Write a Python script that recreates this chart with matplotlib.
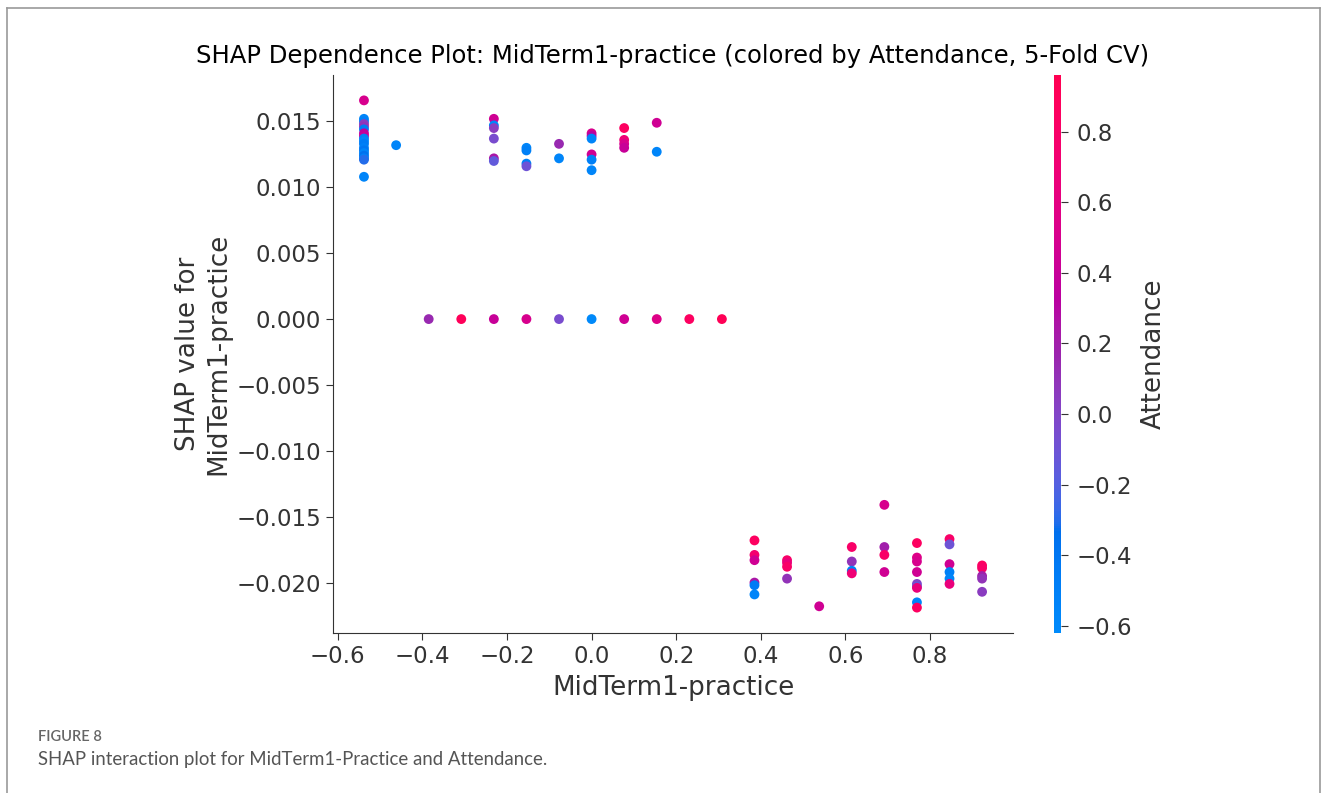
"""SHAP dependence plot: MidTerm1-practice coloured by Attendance"""

import numpy as np
import matplotlib
matplotlib.use("Agg")
import matplotlib.pyplot as plt
from matplotlib.colors import LinearSegmentedColormap, Normalize
from matplotlib.lines import Line2D

# feature value (x), SHAP value (y), attendance (colour), one row per dot
midterm1 = (
    [-0.538] * 18 + [-0.462] + [-0.385] + [-0.308]
    + [-0.231] * 7 + [-0.154] * 5 + [-0.077] * 3 + [0.0] * 7
    + [0.077] * 5 + [0.154] * 3 + [0.231] + [0.308]
    + [0.385] * 6 + [0.462] * 4 + [0.538] + [0.615] * 4 + [0.692] * 4
    + [0.769] * 9 + [0.846] * 6 + [0.923] * 5
)
shap_vals = [
    # -0.538
    0.0166, 0.0152, 0.0150, 0.0148, 0.0146, 0.0144, 0.0141, 0.0139, 0.0137,
    0.0135, 0.0133, 0.0130, 0.0128, 0.0126, 0.0124, 0.0122, 0.0121, 0.0108,
    0.0132,                                         # -0.462
    0.0,                                            # -0.385
    0.0,                                            # -0.308
    0.0152, 0.0147, 0.0145, 0.0137, 0.0122, 0.0120, 0.0,   # -0.231
    0.0130, 0.0128, 0.0118, 0.0116, 0.0,            # -0.154
    0.0133, 0.0122, 0.0,                            # -0.077
    0.0141, 0.0139, 0.0137, 0.0125, 0.0121, 0.0113, 0.0,   # 0.0
    0.0145, 0.0136, 0.0133, 0.0130, 0.0,            # 0.077
    0.0149, 0.0127, 0.0,                            # 0.154
    0.0,                                            # 0.231
    0.0,                                            # 0.308
    -0.0168, -0.0179, -0.0183, -0.0200, -0.0202, -0.0209,  # 0.385
    -0.0183, -0.0185, -0.0188, -0.0197,             # 0.462
    -0.0218,                                        # 0.538
    -0.0173, -0.0184, -0.0191, -0.0193,             # 0.615
    -0.0141, -0.0173, -0.0179, -0.0192,             # 0.692
    -0.0170, -0.0181, -0.0184, -0.0192, -0.0201, -0.0203, -0.0204,
    -0.0215, -0.0219,                               # 0.769
    -0.0167, -0.0171, -0.0186, -0.0192, -0.0197, -0.0201,  # 0.846
    -0.0187, -0.0189, -0.0195, -0.0197, -0.0207,    # 0.923
]
attendance = [
    0.50, -0.55, -0.50, 0.05, 0.10, -0.45, 0.35, 0.40, -0.50,
    -0.55, -0.45, -0.50, -0.40, -0.55, -0.35, -0.50, -0.30, -0.55,
    -0.55,
    0.15,
    0.90,
    0.45, -0.55, 0.05, -0.05, 0.25, -0.15, 0.40,
    -0.55, -0.50, -0.50, -0.10, 0.50,
    0.15, -0.55, -0.05,
    0.50, 0.30, -0.55, 0.45, -0.50, -0.55, -0.60,
    0.85, 0.70, 0.50, 0.40, 0.45,
    0.45, -0.55, 0.55,
    0.85,
    0.92,
    0.85, 0.75, 0.45, 0.25, -0.45, -0.55,
    0.80, 0.65, 0.80, 0.10,
    0.45,
    0.80, 0.10, -0.50, 0.70,
    0.50, 0.20, 0.80, 0.45,
    0.85, 0.55, 0.50, 0.45, 0.00, -0.15, 0.65, -0.55, 0.85,
    0.80, -0.10, 0.45, -0.50, -0.55, 0.65,
    0.85, 0.80, 0.20, 0.10, 0.05,
]
att_min, att_max = -0.62, 0.96


def lch2rgb(l, c, h):
    # LCh -> Lab -> XYZ (D65) -> sRGB
    a, b = c * np.cos(h), c * np.sin(h)
    fy = (l + 16) / 116
    fx, fz = fy + a / 500, fy - b / 200
    finv = lambda t: np.where(t ** 3 > 0.008856, t ** 3, (t - 16 / 116) / 7.787)
    xyz = np.array([0.95047 * finv(fx), finv(fy), 1.08883 * finv(fz)])
    m = np.array([[3.2406, -1.5372, -0.4986],
                  [-0.9689, 1.8758, 0.0415],
                  [0.0557, -0.2040, 1.0570]])
    rgb = m @ xyz
    rgb = np.where(rgb > 0.0031308, 1.055 * np.abs(rgb) ** (1 / 2.4) - 0.055, 12.92 * rgb)
    return np.clip(rgb, 0, 1)


# shap's red_blue colour map
nsteps = 100
l_vals = list(np.linspace(54., 40., nsteps // 2)) + list(np.linspace(40., 54., nsteps // 2))
c_vals = np.linspace(70., 90., nsteps)
h_vals = np.linspace(4.6588, 0.35470565 + 2 * np.pi, nsteps)
red_blue = LinearSegmentedColormap.from_list(
    "red_blue", [lch2rgb(l, c, h) for l, c, h in zip(l_vals, c_vals, h_vals)])

fig = plt.figure(figsize=(13.28, 7.93), dpi=100)
ax = fig.add_axes([0.2508, 0.2018, 0.512, 0.7036])
cax = fig.add_axes([0.7937, 0.2018, 0.0053, 0.7036])

norm = Normalize(att_min, att_max)
sc = ax.scatter(midterm1, shap_vals, c=attendance, cmap=red_blue, norm=norm,
                s=50, linewidth=0, alpha=1)

ax.spines["top"].set_visible(False)
ax.spines["right"].set_visible(False)
ax.spines["left"].set_color("#333333")
ax.spines["bottom"].set_color("#333333")
ax.tick_params(labelsize=16.5, colors="#333333", length=5)
ax.set_yticks([0.015, 0.010, 0.005, 0.0, -0.005, -0.010, -0.015, -0.020])
ax.set_xticks([-0.6, -0.4, -0.2, 0.0, 0.2, 0.4, 0.6, 0.8])
ax.set_xlabel("MidTerm1-practice", fontsize=18.8, color="#333333", labelpad=5)
ax.set_ylabel("SHAP value for\nMidTerm1-practice", fontsize=18.8, color="#333333")
ax.set_title("SHAP Dependence Plot: MidTerm1-practice (colored by Attendance, 5-Fold CV)",
             fontsize=17.5, pad=9)

cb = fig.colorbar(sc, cax=cax)
cb.outline.set_visible(False)
cb.set_ticks([0.8, 0.6, 0.4, 0.2, 0.0, -0.2, -0.4, -0.6])
cb.ax.tick_params(labelsize=16.5, colors="#333333", length=5, pad=6)
cb.set_label("Attendance", fontsize=18.8, color="#333333", labelpad=6)

# page frame and caption
for xs, ys in [([7, 7], [0, 785]), ([7, 1320], [785, 785]), ([1320, 1320], [0, 785])]:
    fig.add_artist(Line2D(np.array(xs) / 1328, np.array(ys) / 793,
                          color="#9a9a9a", linewidth=1.2))
fig.text(38 / 1328, 1 - 737 / 793, "FIGURE 8", fontsize=10.5, color="#666666",
         family="Lato", weight="semibold", va="center")
fig.text(38 / 1328, 1 - 760 / 793,
         "SHAP interaction plot for MidTerm1-Practice and Attendance.",
         fontsize=13.4, color="#555555", family="Lato", va="center")

fig.savefig("out.png", dpi=100)
